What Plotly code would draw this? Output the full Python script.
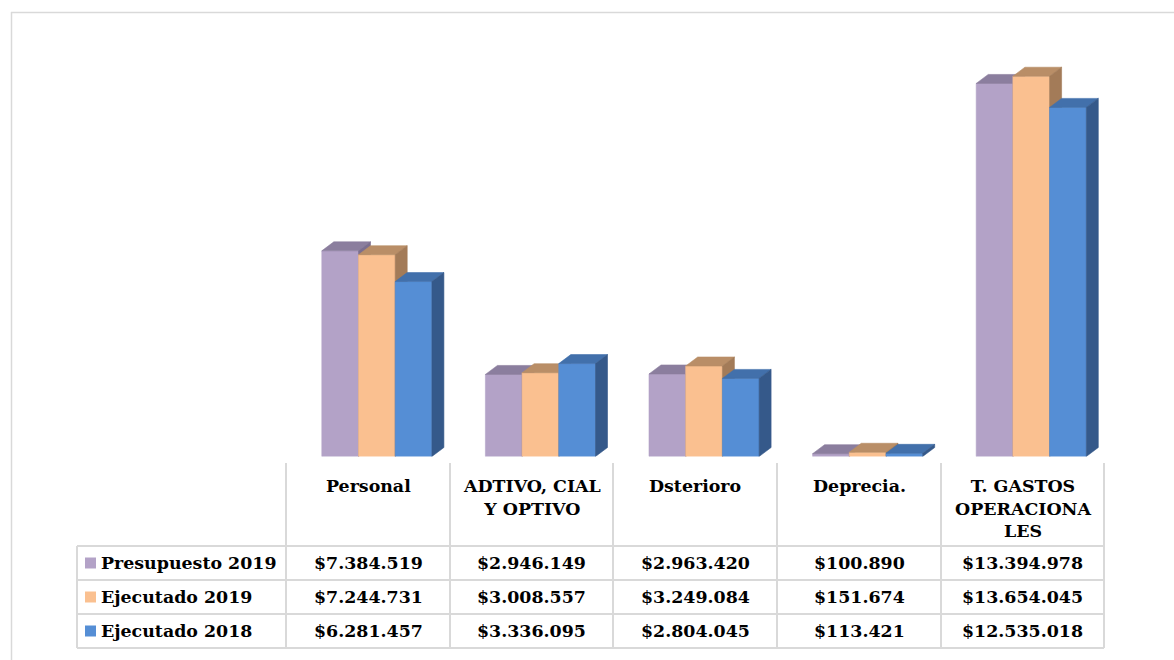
import plotly.graph_objects as go

# ---- data -------------------------------------------------------------
categories = ["Personal", "ADTIVO, CIAL<br>Y OPTIVO", "Dsterioro", "Deprecia.",
              "T. GASTOS<br>OPERACIONA<br>LES"]
series_names = ["Presupuesto 2019", "Ejecutado 2019", "Ejecutado 2018"]
presupuesto_2019 = [7384519, 2946149, 2963420, 100890, 13394978]
ejecutado_2019 = [7244731, 3008557, 3249084, 151674, 13654045]
ejecutado_2018 = [6281457, 3336095, 2804045, 113421, 12535018]
series_values = [presupuesto_2019, ejecutado_2019, ejecutado_2018]

# face colours per series: front, top, side
front_colors = ["#B3A2C7", "#FAC090", "#558ED5"]
top_colors = ["#8B7E9E", "#B98E67", "#4270AB"]
side_colors = ["#7B6E8F", "#A37B58", "#35598A"]

# ---- geometry ---------------------------------------------------------
W, H = 1174, 660
COL_EDGES = [286, 450, 613, 777, 941, 1104]      # table column borders (px)
BASE_PX = 456.5                                   # baseline of the bars (px)
PX_PER_UNIT_VAL = 27.85e-6                        # vertical px per currency unit
UNIT_PX = (COL_EDGES[-1] - COL_EDGES[0]) / len(categories)

bar_w = 36.7 / UNIT_PX
first_left = -46.0 / UNIT_PX
depth_x = 12.0 / UNIT_PX
depth_y = 9.0 / PX_PER_UNIT_VAL
y_max = BASE_PX / PX_PER_UNIT_VAL


def px(x):
    return x / W


def py(y):
    return 1 - y / H


fig = go.Figure()


def add_faces(xs, ys, color):
    fig.add_trace(go.Scatter(
        x=xs, y=ys, mode="lines", fill="toself", fillcolor=color,
        line=dict(color=color, width=0.6), hoverinfo="skip", showlegend=False))


for s, vals in enumerate(series_values):
    fx, fy, tx, ty, sx, sy = [], [], [], [], [], []
    for i, v in enumerate(vals):
        l = i + first_left + s * bar_w
        r = l + bar_w
        # front face
        fx += [l, r, r, l, l, None]
        fy += [0, 0, v, v, 0, None]
        # top face
        tx += [l, l + depth_x, r + depth_x, r, l, None]
        ty += [v, v + depth_y, v + depth_y, v, v, None]
        # side face
        sx += [r, r + depth_x, r + depth_x, r, r, None]
        sy += [0, depth_y, v + depth_y, v, 0, None]
    add_faces(fx, fy, front_colors[s])
    add_faces(tx, ty, top_colors[s])
    add_faces(sx, sy, side_colors[s])

# ---- data table beneath the bars ---------------------------------------
grid = "#D9D9D9"
ROW_LINES = [546, 580, 614, 648]
TABLE_LEFT = 77
HEADER_TOP = 463
shapes = []
# outer frame
shapes.append(dict(type="line", xref="paper", yref="paper", x0=px(11), x1=1.0,
                   y0=py(12.5), y1=py(12.5), line=dict(color=grid, width=1.5)))
shapes.append(dict(type="line", xref="paper", yref="paper", x0=px(11.5), x1=px(11.5),
                   y0=py(12), y1=0, line=dict(color=grid, width=1.5)))
for xe in COL_EDGES:
    shapes.append(dict(type="line", xref="paper", yref="paper", x0=px(xe), x1=px(xe),
                       y0=py(HEADER_TOP), y1=py(ROW_LINES[-1]),
                       line=dict(color=grid, width=2)))
shapes.append(dict(type="line", xref="paper", yref="paper", x0=px(TABLE_LEFT),
                   x1=px(TABLE_LEFT), y0=py(ROW_LINES[0]), y1=py(ROW_LINES[-1]),
                   line=dict(color=grid, width=2)))
for yr in ROW_LINES:
    shapes.append(dict(type="line", xref="paper", yref="paper", x0=px(TABLE_LEFT),
                       x1=px(COL_EDGES[-1]), y0=py(yr), y1=py(yr),
                       line=dict(color=grid, width=2)))

font = dict(family="DejaVu Serif", size=17.4, color="#000000", weight="bold")
annotations = []
for i, cat in enumerate(categories):
    cx = (COL_EDGES[i] + COL_EDGES[i + 1]) / 2
    annotations.append(dict(xref="paper", yref="paper", x=px(cx), y=py(474),
                            text=cat, showarrow=False, xanchor="center",
                            yanchor="top", font=font))


def money(v):
    return "$" + f"{v:,}".replace(",", ".")


for s, vals in enumerate(series_values):
    cy = (ROW_LINES[s] + ROW_LINES[s + 1]) / 2
    # legend key
    shapes.append(dict(type="rect", xref="paper", yref="paper",
                       x0=px(85), x1=px(96), y0=py(cy - 5.5), y1=py(cy + 5.5),
                       fillcolor=front_colors[s], line=dict(width=0)))
    annotations.append(dict(xref="paper", yref="paper", x=px(99), y=py(cy),
                            text=series_names[s], showarrow=False, xanchor="left",
                            yanchor="middle", font=font))
    for i, v in enumerate(vals):
        cx = (COL_EDGES[i] + COL_EDGES[i + 1]) / 2
        annotations.append(dict(xref="paper", yref="paper", x=px(cx), y=py(cy),
                                text=money(v), showarrow=False, xanchor="center",
                                yanchor="middle", font=font))

fig.update_layout(
    width=W, height=H, margin=dict(l=0, r=0, t=0, b=0),
    paper_bgcolor="white", plot_bgcolor="white",
    xaxis=dict(domain=[px(COL_EDGES[0]), px(COL_EDGES[-1])],
               range=[-0.5, len(categories) - 0.5], visible=False, fixedrange=True),
    yaxis=dict(domain=[py(BASE_PX), 1], range=[0, y_max], visible=False,
               fixedrange=True),
    shapes=shapes, annotations=annotations, showlegend=False,
)

fig.write_html("out.html")
